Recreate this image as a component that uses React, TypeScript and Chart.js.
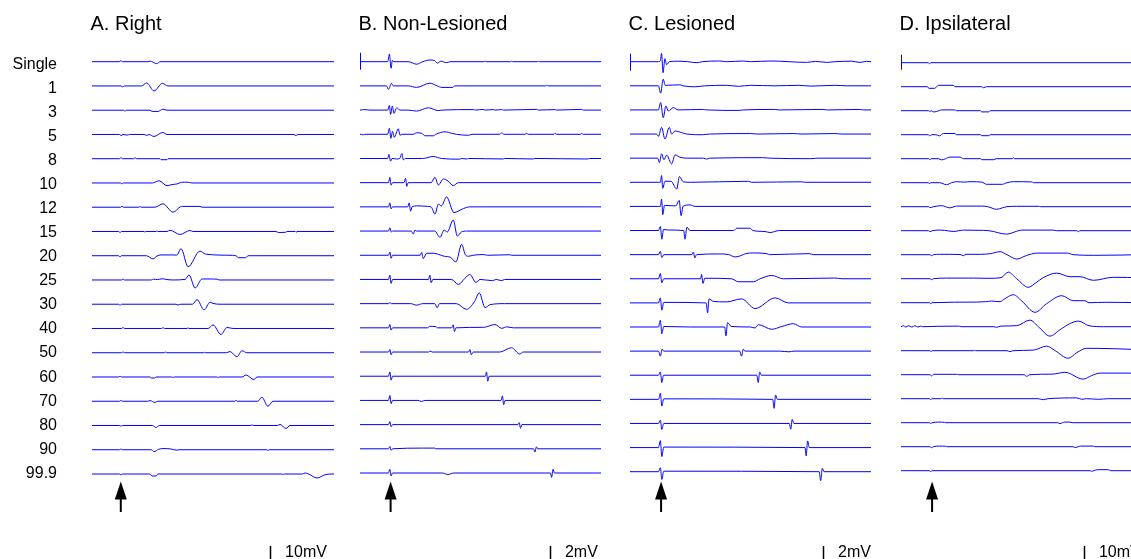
import { useEffect, useRef } from "react";
import { Chart, registerables } from "chart.js";

Chart.register(...registerables);

type Pt = [number, number];

// ---- DATA -------------------------------------------------------------
const rowLabels = ["Single", "1", "3", "5", "8", "10", "12", "15", "20", "25", "30", "40", "50", "60", "70", "80", "90", "99.9"];
const panelTitles = ["A. Right", "B. Non-Lesioned", "C. Lesioned", "D. Ipsilateral"];
const scaleLabels = ["10mV", "2mV", "2mV", "10mV"];
const scaleValuesMv = [10, 2, 2, 10];
const stimulusTimes = [11.9, 12.7, 12.9, 12.9];

// time (0-100) , amplitude (mV)
const tracesRight: Pt[][] = [
  [[0,0],[11.2,0],[11.9,0.5],[12.6,0],[23.1,0],[24,0.3],[26.8,-1],[28.1,0],[100,0]],
  [[0,0],[12,0],[12.7,-0.5],[13.4,0],[20.5,0],[22.6,1.5],[25.6,-2.5],[29.1,1.3],[31.4,0],[100,0]],
  [[0,0],[13,0],[13.6,-0.5],[14.2,0],[24,0],[24.8,-0.6],[27.3,-0.6],[29.3,0.5],[31,0],[100,0]],
  [[0,0],[11.4,0],[12,-0.6],[12.8,0],[14.5,-0.3],[15.5,0],[21.5,0],[22.7,-0.5],[23.5,0],[25.6,-1],[29.3,1],[31,0],[83.5,0],[84.3,-0.6],[85,0],[100,0]],
  [[0,0],[11.4,0],[12,0.6],[12.6,0],[17.2,0],[17.8,0.5],[18.4,0],[28.1,0],[28.5,-0.5],[31,-0.5],[31.4,0],[100,0]],
  [[0,0],[11.8,0],[12.4,-0.5],[13,0],[25,0],[27.7,1.1],[31,-1.4],[33,-0.8],[35.1,-0.5],[37,0.3],[39.3,0.4],[41.3,0],[100,0]],
  [[0,0],[11.8,0],[12.4,0.5],[13,0],[19.4,0],[19.8,0.4],[20.3,0],[26,0],[29.3,1.7],[33.5,-2.5],[36.5,0.2],[37.5,0.4],[44.6,0.4],[45.5,0],[100,0]],
  [[0,0],[11,0],[11.6,-0.5],[12.2,0],[21.5,0],[21.9,-0.3],[22.3,0],[26.5,0],[26.8,0.3],[27.2,0],[31,0],[32.2,0.6],[36.4,-1.5],[40.5,0.5],[41.7,0],[76,0],[77,-0.5],[80,-0.4],[80.6,0],[84,0],[84.3,-0.4],[84.7,0],[100,0]],
  [[0,0],[11,0],[11.6,-0.6],[12.2,0],[22.5,0],[25.2,-1.6],[26.8,-0.2],[28.5,0.4],[33.5,0.4],[35,0.3],[36.8,3.5],[39.7,-5.5],[44.6,2.3],[47,0.8],[58,0.2],[59.5,0],[60.5,-1],[63.5,-1],[64.5,0],[100,0]],
  [[0,0],[12.2,0],[12.8,0.5],[13.4,0],[24.5,0],[25.5,0.4],[27,0.2],[29,0.6],[31,0.2],[33.5,0],[38.5,0.3],[40.1,2.5],[42.6,-4],[45.5,0.5],[48.8,0.5],[51.7,0.4],[52.5,0],[100,0]],
  [[0,0],[11,0],[11.6,-0.5],[12.2,0],[34.7,0],[35.5,-0.4],[36.6,0],[41.5,0],[43.4,2.3],[46.3,-2.8],[48.8,1],[50,0.4],[52.9,0],[100,0]],
  [[0,0],[12.2,0],[12.8,0.5],[13.4,0],[28.7,0],[29.3,0.4],[30,0],[39.3,0],[39.7,0.3],[40.1,0],[48,0],[50,1.8],[53.3,-3],[55.8,0.5],[58.3,0],[100,0]],
  [[0,0],[12.2,0],[12.8,0.4],[13.4,0],[29.8,0],[30.2,0.4],[30.8,0],[46,0],[46.3,0.3],[46.8,0],[55.5,0],[57,0.6],[59.9,-2],[62,1],[64,0],[100,0]],
  [[0,0],[11,0],[11.6,0.4],[12.2,0],[24,0],[24.5,-0.5],[26,-0.5],[26.5,0],[33,0],[33.5,-0.3],[34,0],[51.6,0],[52,-0.3],[52.5,0],[62,0],[63.6,1],[66.9,-1.3],[68.2,0],[100,0]],
  [[0,0],[11.4,0],[12,0.4],[12.6,0],[23,0],[24,0.3],[26,-0.6],[27.2,0],[59,0],[59.5,0.5],[60,0],[68.5,0],[70.2,2],[72.7,-2.5],[74.8,0],[100,0]],
  [[0,0],[11.4,0],[12,-0.4],[12.6,0],[25,0],[26.4,-1],[27.8,0],[65.7,0],[66.1,0.4],[66.6,0],[76.5,0],[77.7,0.5],[80.2,-1.5],[81.8,0],[100,0]],
  [[0,0],[11.4,0],[12,0.4],[12.6,0],[24.5,0],[25.6,-1],[27.5,0.2],[29.3,0.6],[32.5,0.4],[35.1,-0.2],[36,0],[72.3,0],[72.7,-0.4],[73.2,0],[100,0]],
  [[0,0],[11.4,0],[12,-0.5],[12.6,0],[23.8,0],[24.8,-1],[26.5,-1],[27.2,0],[78.5,0],[78.9,-0.3],[79.4,0],[87,0],[88,0.5],[89.5,0],[93,-2],[96,-0.5],[98.3,0],[100,0]],
];

const tracesNonLesioned: Pt[][] = [
  [[0,0],[11.5,0],[12.2,0.75],[12.9,-0.65],[13.4,0.1],[14.1,0],[20,0],[23.5,-0.25],[26,0],[29,0.17],[31,0.1],[32.1,-0.15],[33.5,0.05],[36,-0.1],[37.3,0],[51.5,0],[51.9,0.07],[52.3,0],[62.5,0],[62.9,0.05],[63.3,0],[73.6,0],[74,0.05],[74.4,0],[100,0]],
  [[0,0],[11,0],[11.8,-0.35],[13.1,0.25],[13.8,0],[20,0],[23.5,-0.15],[29,0.27],[32,0],[34,-0.15],[38.5,-0.15],[39.2,0],[77,0],[77.5,0.07],[78,0],[100,0]],
  [[0,0],[2,0.05],[4,0],[11.5,0],[12.2,0.47],[12.7,-0.43],[13.4,0.4],[14.1,-0.33],[15.2,0.23],[16.6,0],[20,0],[23.5,-0.1],[28.4,0.23],[32.5,-0.05],[34,0],[47,0.05],[48,0],[51,0.07],[52,0],[55.3,0.05],[56,0],[58.8,0.05],[59.5,0],[73.3,0.07],[74,0],[80.9,0.05],[81.5,0],[92,0.07],[92.7,0],[100,0]],
  [[0,0],[1.4,-0.05],[2.5,0],[11.5,0],[12.2,0.6],[12.8,-0.4],[13.5,0.3],[14.2,-0.3],[15.9,0.55],[16.6,-0.1],[17.3,0],[22,0],[23.5,0.15],[25.6,0.1],[27,-0.15],[30.5,-0.15],[31.5,0],[35.3,0.25],[38,0.1],[40,0],[45,-0.1],[46.5,0],[58,0],[58.8,0.15],[59.8,0],[68.5,0],[69,0.1],[69.8,0],[80.5,0],[80.9,0.1],[81.6,0],[91.6,0],[92,0.1],[92.6,0],[100,0]],
  [[0,0],[11.5,0],[12,0.4],[12.7,-0.27],[13.3,0],[15.2,-0.05],[16.5,0],[17.4,0.5],[18,-0.15],[18.8,0],[26,0],[30.4,0.2],[33.8,0],[41.4,-0.07],[42,0],[44.2,-0.05],[45,0],[59.4,-0.05],[60,0],[71.8,-0.05],[72.5,0],[94.6,-0.05],[95.2,0],[100,0]],
  [[0,0],[11.8,0],[12.4,0.53],[12.9,-0.25],[13.5,0],[18.2,0],[18.9,0.43],[19.4,-0.37],[20,0],[29.5,0],[31.1,0.53],[32.5,-0.23],[34.6,0.37],[36.6,0.15],[38.7,-0.3],[40.8,0],[100,0]],
  [[0,0],[11.8,0],[12.4,0.4],[12.9,-0.2],[13.5,0],[19.8,0],[20.4,0.4],[21,-0.43],[21.6,0],[24,0.1],[28,0.05],[29.5,0],[31.1,-0.73],[32.5,0.27],[33.8,0.1],[35.9,1.0],[39,-0.57],[42.9,-0.17],[45.6,0],[100,0]],
  [[0,0],[11.8,0],[12.4,0.33],[13,-0.1],[13.5,0],[21.3,0],[22.1,-0.3],[22.8,0.1],[23.5,0],[31,0],[33.2,-0.63],[34.9,0.1],[36.2,-0.1],[38.7,1.1],[40.4,-0.5],[42,-0.1],[44.3,0],[100,0]],
  [[0,0],[11.8,0],[12.4,0.33],[12.9,-0.3],[13.5,0],[25,0],[25.6,0.3],[26.2,-0.33],[27.7,0.2],[30.4,0.2],[35,-0.1],[37.5,-0.2],[39.8,-0.67],[42.2,1.1],[43.6,0.1],[45,-0.1],[47,0],[51,0.07],[53,0],[62.2,0.05],[63,0],[100,0]],
  [[0,0],[11.8,0],[12.4,0.43],[12.9,-0.4],[13.5,0],[28.4,0],[29,0.43],[29.5,-0.33],[30.2,0],[38,0],[40.8,-0.5],[43.5,0.1],[45.6,0.5],[48.1,-0.3],[49.8,0],[55,-0.12],[56.5,0],[58.8,-0.12],[60,0],[100,0]],
  [[0,0],[11.8,0],[12.4,0.1],[13,0],[21,0],[23.5,-0.15],[26,0],[31,0],[32,-0.4],[33,0],[40,0],[44.2,-0.57],[47.5,0.2],[49.5,1.07],[51.9,-0.4],[54,-0.1],[60,0],[100,0]],
  [[0,0],[11.8,0],[12.4,0.33],[12.9,-0.23],[13.5,0],[28,0],[29,0.15],[31.5,0.12],[32,0],[38,0],[38.7,0.3],[39.2,-0.37],[39.8,0],[51.2,0.05],[56,0.33],[58.8,-0.05],[60.9,0.1],[63.6,0],[100,0]],
  [[0,0],[11.8,0],[12.4,0.25],[12.9,-0.27],[13.5,0],[28.5,0],[29,0.1],[30,0],[45,0],[45.6,0.25],[46.2,-0.27],[47,0],[58,0],[62.9,0.43],[66.3,-0.2],[67.7,0],[100,0]],
  [[0,0],[11.8,0],[12.4,0.43],[12.9,-0.4],[13.5,0],[52,0],[52.5,0.43],[53,-0.5],[53.6,0],[100,0]],
  [[0,0],[11.8,0],[12.4,0.5],[12.9,-0.33],[13.5,0],[24,0],[25.5,-0.1],[27,0],[58.5,0],[59.1,0.45],[59.6,-0.43],[60.2,0],[100,0]],
  [[0,0],[11.8,0],[12.4,0.3],[12.9,-0.2],[13.5,0],[65.5,0],[66.1,0.2],[66.6,-0.37],[67.2,0],[100,0]],
  [[0,0],[11.8,0],[12.4,0.23],[12.9,-0.15],[13.5,0],[26,0.07],[31,0.07],[31.5,0],[72,0],[72.6,-0.33],[73.2,0.2],[73.8,0],[100,0]],
  [[0,0],[11.8,0],[12.4,0.37],[12.9,-0.3],[13.5,0],[34,0],[36.5,-0.15],[39,0],[79,0],[79.5,-0.43],[80.1,0.37],[80.7,0],[100,0]],
];

const tracesLesioned: Pt[][] = [
  [[0,0],[11.8,0],[12.6,0.1],[13.1,0.83],[13.7,-1.1],[14.5,0.3],[15.2,-0.3],[16.3,0],[20,0.05],[24,0],[27.7,-0.1],[30,0],[37.3,0.07],[40,0],[47,0.07],[50,0],[58.1,0.07],[62,0.05],[66,0],[73.3,-0.07],[77,0.03],[81.6,-0.07],[85,0],[92,0.05],[95.4,-0.07],[98,0.03],[100,0]],
  [[0,0],[11.8,0],[12.7,-0.73],[13.8,0.67],[14.6,0.05],[20.7,0.1],[22,0],[27,-0.1],[31,0],[40,0.05],[45,-0.05],[50,0.05],[60,0],[70,0.05],[75,-0.03],[85,0.05],[90,0],[100,0]],
  [[0,0],[11.8,0],[12.7,0.73],[13.8,-0.77],[14.9,0.4],[15.9,-0.1],[18,0.23],[20,0],[30,0.05],[32,0],[45,-0.05],[47,0],[60,0.05],[62,0],[80,0.05],[82,0],[95,0.05],[97,0],[100,0]],
  [[0,0],[11,0],[11.8,-0.23],[13.1,0.67],[14.5,-0.5],[16.3,0.67],[17.3,0],[18.7,0.3],[21.4,0.15],[23.5,0],[30,-0.07],[33,0],[50,0.05],[53,0],[68,0.05],[71,0],[85,0.05],[88,0],[100,0]],
  [[0,0],[11.5,0],[12.2,-0.43],[13.1,0.43],[14.1,-0.15],[15.2,0.3],[17.3,-0.57],[18.7,0.33],[20.7,0.1],[23.5,0],[30.5,0],[31.8,-0.1],[33,0],[55,0.05],[58,0],[75,-0.05],[78,0],[100,0]],
  [[0,0],[11.8,0],[12.6,0],[13.1,0.67],[13.6,-0.6],[14.5,0.1],[17,0.1],[19.4,-0.67],[20.5,0.57],[22.1,0.05],[25,0],[49.1,0.1],[50.5,0],[71,0.05],[73,0],[100,0]],
  [[0,0],[11.8,0],[12.6,0],[13.1,0.73],[13.6,-0.83],[14.3,0.1],[19,0.05],[20.4,0.6],[21.2,-0.93],[22,0],[24.9,0.15],[27,0],[100,0]],
  [[0,0],[11.8,0],[12.6,0.4],[13.2,-0.87],[13.9,0.1],[16,0.05],[22.3,0],[22.8,-0.87],[23.6,0.33],[24.9,0],[43,0],[44.3,0.23],[49.8,0.23],[51,0],[56,-0.1],[58.1,-0.2],[62,0],[100,0]],
  [[0,0],[11.8,0],[12.6,0.33],[13.2,-0.3],[14,0],[25.7,0],[26.3,0.27],[26.9,-0.33],[27.6,0],[37,0.07],[41,0],[43.6,-0.23],[46,-0.1],[48,0.1],[51.2,0.17],[56.7,0.1],[58,0],[74.5,0.1],[76,0],[100,0]],
  [[0,0],[11.8,0],[12.6,0.53],[13.2,-0.4],[14,0],[29.3,0],[29.7,0.43],[30.3,-0.47],[31,0.05],[42,0],[45,-0.3],[51.2,-0.3],[54,0],[58.8,0.33],[63.6,0],[85,0.07],[88,0],[100,0]],
  [[0,0],[11.8,0],[12.6,0.5],[13.2,-0.73],[14,0.05],[31.6,0],[32.2,-1.0],[32.8,0.4],[34.5,0.15],[40,0.1],[46.3,0.4],[51.9,-0.57],[60.2,0.5],[65.7,0],[100,0]],
  [[0,0],[11.8,0],[12.6,0.67],[13.2,-0.67],[14,0.05],[25,0],[39.3,0],[39.8,-0.9],[40.5,0.43],[42,0.05],[50,0],[51.9,-0.1],[53.3,0.23],[58.8,-0.23],[63,0.05],[67.8,0.33],[71.2,0],[100,0]],
  [[0,0],[11.8,0],[12.6,-0.5],[13.3,0.2],[14,0],[45.5,0],[46.3,-0.5],[47,0.2],[47.7,0],[62,0],[66,-0.07],[68,0],[100,0]],
  [[0,0],[11.8,0],[12.6,0.33],[13.2,-0.73],[13.9,0],[52.6,0],[53.2,-0.73],[53.8,0.33],[54.5,0],[100,0]],
  [[0,0],[11.8,0],[12.6,0.6],[13.2,-0.67],[14,0.05],[59.2,0],[59.8,-0.9],[60.4,0.43],[61.2,0],[100,0]],
  [[0,0],[11.8,0],[12.6,0.33],[13.2,-0.6],[14,0],[66.1,0],[66.7,-0.57],[67.3,0.4],[68,0],[100,0]],
  [[0,0],[11.8,0],[12.6,0.7],[13.2,-0.9],[14,0.05],[72.6,0],[73.1,-0.83],[73.7,0.67],[74.4,0],[100,0]],
  [[0,0],[11.8,0],[12.6,0.4],[13.2,-0.77],[14,0.05],[78.5,0],[79.1,-0.9],[79.8,0.33],[80.5,0],[100,0]],
];

const tracesIpsilateral: Pt[][] = [
  [[0,0],[11.3,0],[11.8,-0.5],[12.4,0],[100,0]],
  [[0,0],[11,0],[11.5,-0.8],[14,-0.8],[15.5,0.7],[21.7,0.7],[22.4,0],[33.5,0],[34.2,-0.5],[35.5,0],[100,0]],
  [[0,0],[11.5,0],[12,-0.5],[12.5,0],[13.5,-0.6],[14.8,-0.4],[16.9,0.4],[22.4,0.4],[23,0],[33,0],[33.5,-0.6],[36.5,-0.6],[37,0],[100,0]],
  [[0,0],[11.3,0],[11.8,-0.5],[12.8,0],[14.5,0],[15.9,-0.6],[17.6,0.6],[22.4,0.6],[23,0],[33,0],[33.5,-0.5],[36.5,-0.5],[37,0],[100,0]],
  [[0,0],[11.5,0],[12,-0.5],[12.5,0],[15.5,0],[16.9,-0.6],[18.5,0],[20.3,0.8],[24.5,0.8],[25.9,0],[33,0],[33.5,-0.5],[38.5,-0.5],[39.5,0],[46.1,0],[46.6,0.5],[47.1,0],[100,0]],
  [[0,0],[11.3,0],[11.8,-0.4],[12.4,0],[16,0],[18.9,-1.0],[21,0],[23.1,0.5],[26,0.3],[29,0.5],[33.5,0.3],[35.5,-0.8],[42,-0.8],[44,0],[46.6,0.5],[54.2,0.4],[55,0],[100,0]],
  [[0,0],[11.5,0],[12,-0.5],[13.5,0],[16.9,0.5],[18.5,0],[20.3,-0.6],[22,0],[23.1,0.3],[33.5,0.3],[36,0],[39.7,-1.3],[42,-0.6],[44,0],[48,0.2],[57,0.2],[58,0],[100,0]],
  [[0,0],[11.5,0],[12,-0.5],[13,0],[16,0.3],[18,0.2],[21.7,-0.4],[24,0],[26,0.3],[32,0.2],[36.5,0],[43.8,-1.7],[48,-0.3],[50,0.3],[63,0.3],[64.5,0],[73,0],[73.6,-0.5],[74.2,0],[100,0]],
  [[0,0],[12,0],[12.7,-0.5],[13.5,0],[16,0.2],[24.5,0.1],[25.9,-0.5],[27,0.2],[33,0.2],[37,0.5],[41.1,1.5],[44,0],[48,-2.2],[52.1,-0.4],[56.3,0.8],[69,0.8],[71.5,0],[80,-0.3],[90,-0.2],[100,0]],
  [[0,0],[12,0],[12.7,-0.5],[13.5,0],[18.9,0.3],[30,0.3],[36.9,0.2],[41.5,0.5],[44.5,3.3],[48,0],[52.8,-4.3],[56,-2],[59,0.5],[64.6,2.8],[70.1,1],[74.3,1],[79.8,-0.8],[88.1,0.7],[100,0.5]],
  [[0,0],[11.8,0],[12.3,-0.5],[12.9,0],[31.4,0.3],[35,0.5],[37.6,0.8],[41.1,0.5],[42.5,1.5],[46.6,4],[50,1],[55.6,-4.8],[60.4,-0.5],[66.7,3.5],[71.5,1],[76.3,1],[78,0],[85,0.2],[100,0]],
  [[0,0],[1,0.5],[2,-0.2],[3.2,0.5],[4.5,-0.2],[5.8,0.5],[7,-0.2],[8,0.3],[9,0],[15,0.2],[23.8,0.3],[25,0],[38.5,0],[39.7,-0.3],[41.5,0.3],[48,0.5],[53.5,3.3],[57,0],[61.8,-4.7],[66,-1.5],[70,1.5],[73.6,2.8],[78,0.5],[84,0],[100,0]],
  [[0,0],[12,0],[12.5,-0.4],[13,0],[30,0],[30.5,0.2],[31,0],[44,0],[45.2,-0.5],[46.5,0],[55,0.3],[60.4,2.3],[64,0],[69.4,-3.8],[72.9,-1],[77,1.2],[88.1,1],[100,0.5]],
  [[0,0],[12,0],[12.7,-0.6],[13.5,0.2],[23,0.2],[24,0],[51,0],[52.1,-0.8],[53.5,0],[63,0.3],[68,1.2],[75.6,-2.2],[79,-0.5],[82.6,0.8],[95,0.8],[100,0.5]],
  [[0,0],[11.8,0],[12.3,-0.4],[12.9,0],[16.7,0],[17,0.4],[17.5,0],[57,0],[59,-0.5],[61,0],[72.9,0.4],[75,-0.3],[77,0],[82,-0.3],[86,0],[100,0]],
  [[0,0],[11.8,0],[12.3,-0.4],[12.9,0],[15.5,0.3],[18,0.2],[18.5,0],[65,0],[66,-0.5],[67,0],[68,0.3],[70.1,0.3],[71,0],[100,0]],
  [[0,0],[12,0],[12.7,-0.5],[13.5,0],[16,0.3],[18.5,0.2],[19,0],[71.5,0],[72.2,-0.5],[73.5,0],[74.5,0.3],[79.8,0.3],[80.5,0],[100,0]],
  [[0,0],[11.8,0],[12.3,-0.4],[12.9,0],[78.5,0],[79.1,-0.3],[80,0],[81.5,0.5],[86,0.5],[87,0],[100,0]],
];

const panelTraces = [tracesRight, tracesNonLesioned, tracesLesioned, tracesIpsilateral];

// ---- LAYOUT -----------------------------------------------------------
const W = 1131;
const H = 559;
const FONT = "'Liberation Sans', Arial, Helvetica, sans-serif";
const LINE = "rgb(0,0,255)";
const LABEL_FIRST_Y = 64.5;
const LABEL_LAST_Y = 473.3;

interface Layout {
  left: number; width: number; firstRowY: number; lastRowY: number;
  gain: number; axisWidth: number; barT: number; mark: [number, number] | null;
}
const layouts: Layout[] = [
  { left: 92, width: 242, firstRowY: 61.7, lastRowY: 474, gain: 2, axisWidth: 92, barT: 73.6, mark: null },
  { left: 360, width: 241, firstRowY: 61.7, lastRowY: 473, gain: 10, axisWidth: 0, barT: 78.8, mark: [9, 8] },
  { left: 630, width: 241, firstRowY: 61.7, lastRowY: 471.7, gain: 10, axisWidth: 0, barT: 80.1, mark: [8, 9] },
  { left: 901, width: 241, firstRowY: 62.7, lastRowY: 470.7, gain: 2, axisWidth: 0, barT: 75.9, mark: [8, 7] },
];

const decorPlugin = {
  id: "decor",
  afterDatasetsDraw(chart: any, _args: any, opts: any) {
    const { ctx, chartArea } = chart;
    const xs = chart.scales.x;
    const ys = chart.scales.y;
    ctx.save();
    // calibration mark at start of first trace
    if (opts.mark) {
      const y0 = ys.getPixelForValue(0);
      ctx.strokeStyle = LINE;
      ctx.lineWidth = 1;
      ctx.beginPath();
      ctx.moveTo(chartArea.left + 0.5, y0 - opts.mark[0]);
      ctx.lineTo(chartArea.left + 0.5, y0 + opts.mark[1]);
      ctx.stroke();
    }
    // stimulus arrow
    const ax = xs.getPixelForValue(opts.stimT);
    ctx.fillStyle = "#000";
    ctx.strokeStyle = "#000";
    ctx.beginPath();
    ctx.moveTo(ax, 481.5);
    ctx.lineTo(ax - 6, 499.5);
    ctx.lineTo(ax + 6, 499.5);
    ctx.closePath();
    ctx.fill();
    ctx.lineWidth = 2;
    ctx.beginPath();
    ctx.moveTo(ax, 497);
    ctx.lineTo(ax, 512);
    ctx.stroke();
    // scale bar
    const bx = Math.round(xs.getPixelForValue(opts.barT)) + 0.5;
    const len = ys.getPixelForValue(0) - ys.getPixelForValue(opts.barMv);
    ctx.lineWidth = 1.5;
    ctx.beginPath();
    ctx.moveTo(bx, 546);
    ctx.lineTo(bx, 546 + len);
    ctx.stroke();
    ctx.restore();
  },
};

function Panel({ index }: { index: number }) {
  const ref = useRef<HTMLCanvasElement>(null);
  const L = layouts[index];
  const cw = L.axisWidth + L.width;
  useEffect(() => {
    if (!ref.current) return;
    const traces = panelTraces[index];
    const n = rowLabels.length - 1;
    const step = (L.lastRowY - L.firstRowY) / n / L.gain;
    const yMax = L.firstRowY / L.gain;
    const yMin = -(H - L.firstRowY) / L.gain;
    const labelStep = (LABEL_LAST_Y - LABEL_FIRST_Y) / n / L.gain;
    const labelOffset = (LABEL_FIRST_Y - L.firstRowY) / L.gain;
    const datasets = traces.map((tr, k) => ({
      label: rowLabels[k],
      data: tr.map(([t, v]) => ({ x: t, y: v - k * step })),
      borderColor: LINE,
      borderWidth: 1,
      pointRadius: 0,
      fill: false,
      cubicInterpolationMode: "monotone" as const,
    }));
    const showAxis = L.axisWidth > 0;
    const chart = new Chart(ref.current, {
      type: "line",
      data: { datasets },
      options: {
        animation: false,
        responsive: false,
        devicePixelRatio: 1,
        layout: { padding: 0 },
        plugins: {
          legend: { display: false },
          tooltip: { enabled: false },
          decor: { stimT: stimulusTimes[index], barT: L.barT, barMv: scaleValuesMv[index], mark: L.mark },
        } as any,
        scales: {
          x: { type: "linear", min: 0, max: 100, display: false },
          y: {
            type: "linear",
            min: yMin,
            max: yMax,
            display: showAxis,
            grid: { display: false, drawTicks: false },
            border: { display: false },
            afterBuildTicks: (scale: any) => {
              scale.ticks = rowLabels.map((_, k) => ({ value: -labelOffset - k * labelStep }));
            },
            afterFit: (scale: any) => {
              scale.width = L.axisWidth;
              scale.paddingTop = 0;
              scale.paddingBottom = 0;
            },
            ticks: {
              padding: 35,
              color: "#000",
              font: { family: FONT, size: 16 },
              autoSkip: false,
              callback: (_v: any, i: number) => rowLabels[i],
            },
          },
        },
      },
      plugins: [decorPlugin],
    });
    return () => chart.destroy();
  }, [index]);
  return (
    <canvas
      ref={ref}
      width={cw}
      height={H}
      style={{ position: "absolute", left: L.left - L.axisWidth, top: 0, width: cw, height: H }}
    />
  );
}

export default function App() {
  return (
    <div style={{ position: "absolute", left: 0, top: 0, width: W, height: H, overflow: "hidden", background: "#fff", fontFamily: FONT }}>
      {layouts.map((_, i) => <Panel key={i} index={i} />)}
      {panelTitles.map((t, i) => (
        <div key={"t" + i} style={{ position: "absolute", left: layouts[i].left - 1.5, top: 13, fontSize: 20, lineHeight: "20px", color: "#000", whiteSpace: "nowrap" }}>{t}</div>
      ))}
      {scaleLabels.map((t, i) => {
        const L = layouts[i];
        const bx = L.left + (L.barT / 100) * L.width;
        return (
          <div key={"s" + i} style={{ position: "absolute", left: bx + 15, top: 544, fontSize: 16, lineHeight: "16px", color: "#000", whiteSpace: "nowrap" }}>{t}</div>
        );
      })}
    </div>
  );
}
